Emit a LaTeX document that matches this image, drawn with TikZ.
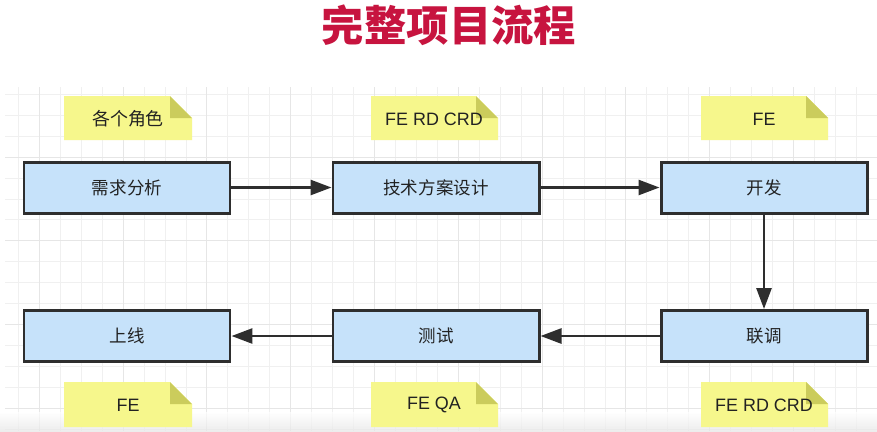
\documentclass[tikz,border=0pt]{standalone}
\usepackage{fontspec}
\setmainfont{Liberation Sans}
\newfontfamily\cjk{Noto Sans CJK SC}
\newfontfamily\cjktitle{Noto Sans CJK SC Black}
\usetikzlibrary{arrows.meta}
\definecolor{titlered}{HTML}{C7143F}
\definecolor{boxfill}{HTML}{C6E2FA}
\definecolor{boxline}{HTML}{2E2E2E}
\definecolor{notefill}{HTML}{F6F78C}
\definecolor{notefold}{HTML}{CBCC5C}
\definecolor{gridminor}{HTML}{F0F0F0}
\definecolor{gridmajor}{HTML}{E6E6E6}
\definecolor{txt}{HTML}{222222}
\tikzset{
  stepbox/.style={draw=boxline, line width=3pt, fill=boxfill, minimum width=206bp, minimum height=51bp, inner sep=0pt, font=\cjk\fontsize{17.6}{20}\selectfont, text=txt},
  notebox/.style={minimum width=128bp, minimum height=44bp, inner sep=0pt, font=\fontsize{18}{20}\selectfont, text=txt},
  flow/.style={draw=boxline, line width=2.7pt, -{Triangle[length=21bp,width=15bp]}},
}
\newcommand{\stickynote}[4]{% x1 y1 x2 y2 (top-left, bottom-right), fold 22
  \fill[notefill] (#1,#2) -- (#3-22,#2) -- (#3,#2+22) -- (#3,#4) -- (#1,#4) -- cycle;
  \fill[notefold] (#3-22,#2) -- (#3,#2+22) -- (#3-22,#2+22) -- cycle;
}
\begin{document}
\begin{tikzpicture}[x=1bp,y=-1bp]
\useasboundingbox (0,0) rectangle (877,431);
\fill[white] (0,0) rectangle (877,431);
% grid
\foreach \i in {0,...,41} {
  \pgfmathsetmacro{\gx}{18.35+20.95*\i}
  \draw[gridminor, line width=0.9pt] (\gx,87) -- (\gx,431);
}
\foreach \i in {0,...,16} {
  \pgfmathsetmacro{\gy}{94.2+20.95*\i}
  \draw[gridminor, line width=0.9pt] (5,\gy) -- (877,\gy);
}
\foreach \i in {0,...,10} {
  \pgfmathsetmacro{\gx}{39.3+83.8*\i}
  \draw[gridmajor, line width=1pt] (\gx,87) -- (\gx,431);
}
\foreach \i in {0,...,3} {
  \pgfmathsetmacro{\gy}{157+83.8*\i}
  \draw[gridmajor, line width=1pt] (5,\gy) -- (877,\gy);
}
% bottom fade
\shade[top color=white, bottom color=black!10, opacity=0.7] (0,412) rectangle (877,431);
% title
\node[text=titlered, font=\cjktitle\fontsize{42.5}{46}\selectfont] (title) at (449,25) {完整项目流程};
% notes
\stickynote{64}{96}{192}{140}
\stickynote{371}{96}{498}{140}
\stickynote{701}{96}{828}{140}
\stickynote{64}{382}{192}{427}
\stickynote{371}{382}{498}{427}
\stickynote{701}{382}{828}{427}
\node[notebox] (n1) at (128,119) {\cjk 各个角色};
\node[notebox] (n2) at (434,119) {FE RD CRD};
\node[notebox] (n3) at (764,119) {FE};
\node[notebox] (n4) at (128,405) {FE};
\node[notebox] (n5) at (434,405) {FE QA};
\node[notebox] (n6) at (764,405) {FE RD CRD};
% boxes
\node[stepbox] (xq) at (127,187.5) {需求分析};
\node[stepbox] (js) at (436,187.5) {技术方案设计};
\node[stepbox] (kf) at (764,187.5) {开发};
\node[stepbox] (sx) at (127,336) {上线};
\node[stepbox] (cs) at (436,336) {测试};
\node[stepbox] (lt) at (764,336) {联调};
% arrows
\draw[flow] (xq) -- (js);
\draw[flow] (js) -- (kf);
\draw[flow] (kf) -- (lt);
\draw[flow] (lt) -- (cs);
\draw[flow] (cs) -- (sx);
\end{tikzpicture}
\end{document}
